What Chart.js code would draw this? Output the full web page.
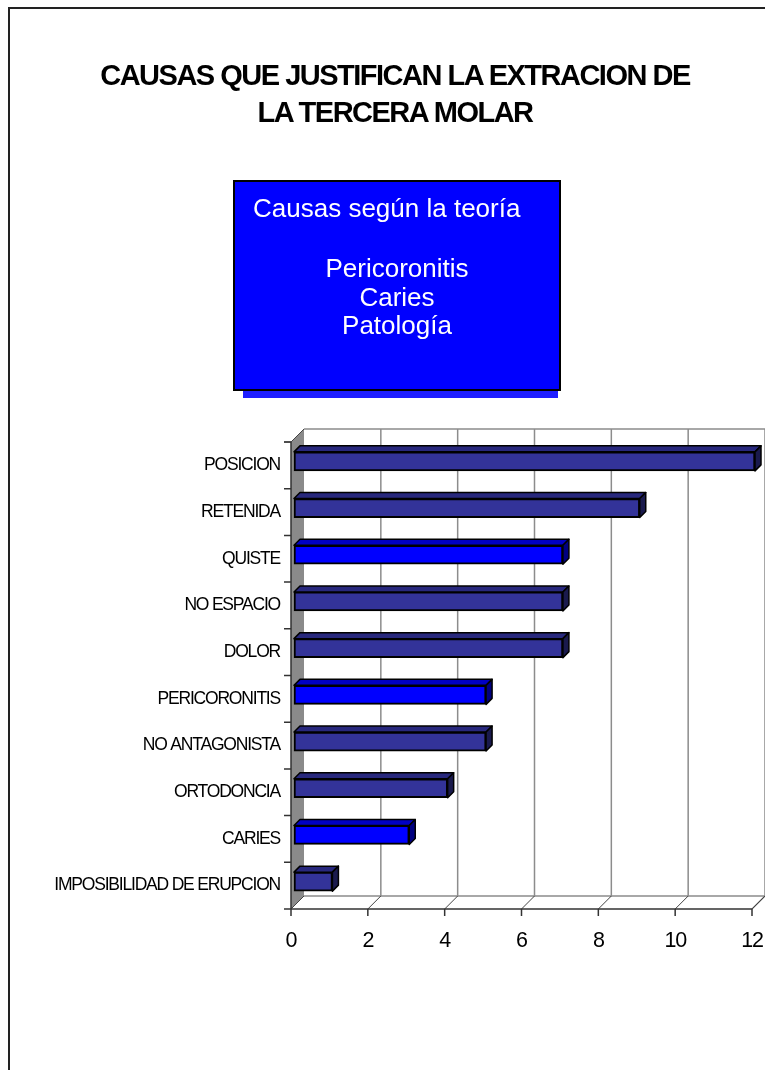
<!DOCTYPE html>
<html>
<head>
<meta charset="utf-8">
<script src="https://cdn.jsdelivr.net/npm/chart.js@4.4.1/dist/chart.umd.min.js"></script>
<style>
  body { margin: 0; background: #fff; font-family: "Liberation Sans", Arial, sans-serif; }
  #hoja { position: relative; width: 765px; height: 1070px; overflow: hidden; }
  #marco { position: absolute; left: 8px; top: 7px; width: 800px; height: 1100px;
           border-left: 2px solid #222; border-top: 2px solid #222; }
  #grafico { position: absolute; left: 0; top: 0; }
  #titulo { position: absolute; left: 0; top: 57px; width: 790px; text-align: center;
            font-weight: bold; font-size: 29px; letter-spacing: -1.5px; line-height: 37px; color: #000; }
  #sombra { position: absolute; left: 243px; top: 391px; width: 315px; height: 7px; background: #1f1fff; }
  #cuadro { position: absolute; left: 233px; top: 180px; width: 324px; height: 207px;
            background: #0000ff; border: 2px solid #000; color: #fff; font-size: 26px; }
  #cuadro .encabezado { position: absolute; left: 18px; top: 12px; line-height: 29px; white-space: nowrap; }
  #cuadro .lista { position: absolute; left: 0; width: 100%; top: 72px; line-height: 28.5px; text-align: center; }
</style>
</head>
<body>
<div id="hoja">
  <canvas id="grafico" width="765" height="1070"></canvas>
  <div id="marco"></div>
  <div id="titulo">CAUSAS QUE JUSTIFICAN LA EXTRACION DE<br>LA TERCERA MOLAR</div>
  <div id="sombra"></div>
  <div id="cuadro">
    <div class="encabezado">Causas según la teoría</div>
    <div class="lista">Pericoronitis<br>Caries<br>Patología</div>
  </div>
</div>
<script>
// ===== Datos =====
const categorias = [
  "POSICION", "RETENIDA", "QUISTE", "NO ESPACIO", "DOLOR",
  "PERICORONITIS", "NO ANTAGONISTA", "ORTODONCIA", "CARIES",
  "IMPOSIBILIDAD DE ERUPCION"
];
const casos = [12, 9, 7, 7, 7, 5, 5, 4, 3, 1];
const segunTeoria = ["QUISTE", "PERICORONITIS", "CARIES"];
const ticksX = [0, 2, 4, 6, 8, 10, 12];

// ===== Estilo =====
const FUENTE = '"Liberation Sans", Arial, sans-serif';
const PROF = 13;   // profundidad de las paredes 3D
const BISEL = 6;   // profundidad de cada barra
const colores = {
  normal: { frente: "#333399", arriba: "#28287d", lado: "#1a1a4d" },
  teoria: { frente: "#0000ff", arriba: "#0000c4", lado: "#000080" }
};
const tono = cat => segunTeoria.includes(cat) ? colores.teoria : colores.normal;

Chart.defaults.font.family = FUENTE;

// Paredes, piso y caras laterales de las barras
const marco3d = {
  id: "marco3d",
  beforeDraw(chart) {
    // texto de los ejes algo comprimido, como en el original
    chart.ctx.letterSpacing = "-1.2px";
  },
  beforeDatasetsDraw(chart) {
    const { ctx, chartArea: a, scales: { x, y } } = chart;
    const L = a.left, R = a.right, T = a.top, B = a.bottom, D = PROF;
    ctx.letterSpacing = "0px";
    ctx.save();

    // pared lateral gris
    ctx.fillStyle = "#8a8a8a";
    ctx.beginPath();
    ctx.moveTo(L, T); ctx.lineTo(L + D, T - D); ctx.lineTo(L + D, B - D); ctx.lineTo(L, B);
    ctx.closePath(); ctx.fill();

    // borde superior de la pared del fondo y líneas de división
    ctx.strokeStyle = "#8c8c8c";
    ctx.lineWidth = 1.5;
    ctx.beginPath();
    ctx.moveTo(L + D, T - D); ctx.lineTo(chart.width, T - D);
    ticksX.slice(1).forEach(v => {
      const px = x.getPixelForValue(v) + D;
      ctx.moveTo(px, T - D); ctx.lineTo(px, B - D);
    });
    ctx.stroke();

    // piso
    ctx.fillStyle = "#fff";
    ctx.beginPath();
    ctx.moveTo(L, B); ctx.lineTo(R, B); ctx.lineTo(R + D, B - D); ctx.lineTo(L + D, B - D);
    ctx.closePath(); ctx.fill();
    ctx.beginPath();
    ctx.moveTo(L + D, B - D); ctx.lineTo(R + D, B - D); ctx.lineTo(R, B);
    ctx.stroke();

    // diagonales del piso
    ctx.strokeStyle = "#444";
    ctx.lineWidth = 1;
    ctx.beginPath();
    ticksX.forEach(v => {
      const px = x.getPixelForValue(v);
      ctx.moveTo(px + D, B - D); ctx.lineTo(px, B);
    });
    ctx.moveTo(L - 7, T); ctx.lineTo(L, T); ctx.lineTo(L + D, T - D);
    ctx.stroke();

    // ejes frontales y marcas
    ctx.strokeStyle = "#333";
    ctx.lineWidth = 1.5;
    ctx.beginPath();
    ctx.moveTo(L, T); ctx.lineTo(L, B);
    ctx.lineTo(R, B);
    ticksX.forEach(v => {
      const px = x.getPixelForValue(v);
      ctx.moveTo(px, B); ctx.lineTo(px, B + 7);
    });
    for (let i = 0; i <= categorias.length; i++) {
      const py = y.getPixelForValue(i - 0.5);
      ctx.moveTo(L - 7, py); ctx.lineTo(L, py);
    }
    ctx.stroke();
    ctx.restore();

    // las barras quedan un poco hacia el fondo
    ctx.save();
    ctx.translate(3, -4);
  },
  afterDatasetsDraw(chart) {
    const ctx = chart.ctx;
    const d = BISEL;
    chart.getDatasetMeta(0).data.forEach((bar, i) => {
      const { x: xe, y: yc, base, height } = bar.getProps(["x", "y", "base", "height"], true);
      const arriba = yc - height / 2, abajo = yc + height / 2;
      const c = tono(categorias[i]);
      ctx.lineWidth = 1.5;
      ctx.lineJoin = "round";
      ctx.strokeStyle = "#000";

      ctx.fillStyle = c.arriba;
      ctx.beginPath();
      ctx.moveTo(base, arriba); ctx.lineTo(base + d, arriba - d);
      ctx.lineTo(xe + d, arriba - d); ctx.lineTo(xe, arriba);
      ctx.closePath(); ctx.fill(); ctx.stroke();

      ctx.fillStyle = c.lado;
      ctx.beginPath();
      ctx.moveTo(xe, arriba); ctx.lineTo(xe + d, arriba - d);
      ctx.lineTo(xe + d, abajo - d); ctx.lineTo(xe, abajo);
      ctx.closePath(); ctx.fill(); ctx.stroke();
    });
    ctx.restore();
  }
};

new Chart(document.getElementById("grafico"), {
  type: "bar",
  data: {
    labels: categorias,
    datasets: [{
      data: casos,
      backgroundColor: categorias.map(c => tono(c).frente),
      borderColor: "#000",
      borderWidth: 2,
      borderSkipped: false,
      barThickness: 19,
      clip: false
    }]
  },
  options: {
    indexAxis: "y",
    responsive: false,
    devicePixelRatio: 1,
    animation: false,
    layout: { padding: { left: 0, top: 442, right: 13, bottom: 0 } },
    plugins: {
      legend: { display: false },
      tooltip: { enabled: false }
    },
    scales: {
      x: {
        type: "linear",
        min: 0,
        max: 12,
        afterBuildTicks: s => { s.ticks = ticksX.map(v => ({ value: v })); },
        ticks: { color: "#000", font: { size: 21.5 }, padding: 19 },
        grid: { display: false, drawTicks: false },
        border: { display: false },
        afterFit: s => { s.height = 161; s.paddingLeft = 0; s.paddingRight = 0; }
      },
      y: {
        ticks: { color: "#000", font: { size: 17.5 }, padding: 11 },
        grid: { display: false, drawTicks: false },
        border: { display: false },
        afterFit: s => { s.width = 291; s.paddingTop = 0; s.paddingBottom = 0; }
      }
    }
  },
  plugins: [marco3d]
});
</script>
</body>
</html>
